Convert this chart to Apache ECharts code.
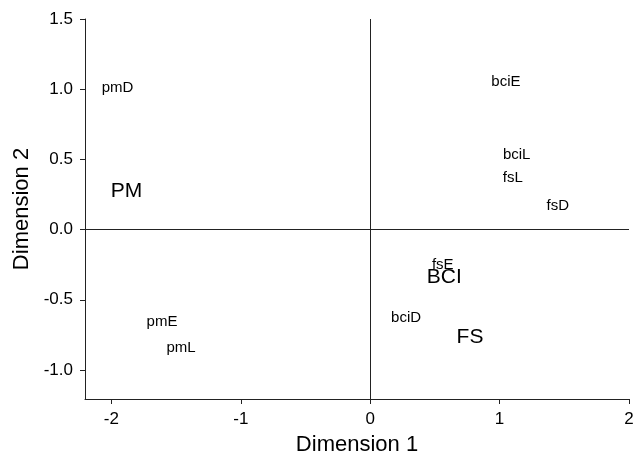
<!DOCTYPE html>
<html><head><meta charset="utf-8">
<script src="https://cdn.jsdelivr.net/npm/echarts@6/dist/echarts.min.js"></script>
<style>html,body{margin:0;padding:0;background:#fff}#c{width:640px;height:456px}</style>
</head><body><div id="c"></div>
<script>
var smallNames = ['pmD','pmE','pmL','bciE','bciL','fsL','fsD','fsE','bciD'];
var smallX = [-1.953,-1.609,-1.462,1.049,1.132,1.102,1.450,0.561,0.277];
var smallY = [1.012,-0.661,-0.843,1.053,0.535,0.368,0.166,-0.249,-0.630];
var bigNames = ['PM','BCI','FS'];
var bigX = [-1.883,0.573,0.771];
var bigY = [0.271,-0.340,-0.765];
var xTicks = [-2,-1,0,1,2];
var yTicks = [-1.0,-0.5,0.0,0.5,1.0,1.5];

function pts(n,x,y){return n.map(function(s,i){return {name:s,value:[x[i],y[i]]};});}
var font = 'Liberation Sans, Arial, Helvetica, sans-serif';
var ink = '#000';
var chart = echarts.init(document.getElementById('c'),null,{renderer:'canvas'});
chart.setOption({
  animation:false,
  grid:{left:85,right:11,top:19,bottom:57,containLabel:false,outerBoundsMode:'none'},
  xAxis:{type:'value',min:-2.204,max:2,
    name:'Dimension 1',nameLocation:'middle',nameGap:35,
    nameTextStyle:{fontFamily:font,fontSize:22,color:ink},
    axisLine:{show:true,onZero:false,lineStyle:{color:'#222',width:1}},
    axisTick:{show:true,length:5,customValues:xTicks,lineStyle:{color:'#222'}},
    axisLabel:{customValues:xTicks,fontFamily:font,fontSize:17,color:ink,margin:12},
    splitLine:{show:false}},
  yAxis:{type:'value',min:-1.207,max:1.5,
    name:'Dimension 2',nameLocation:'middle',nameGap:40,
    nameTextStyle:{fontFamily:font,fontSize:22,color:ink},
    axisLine:{show:true,onZero:false,lineStyle:{color:'#222',width:1}},
    axisTick:{show:true,length:5,customValues:yTicks,lineStyle:{color:'#222'}},
    axisLabel:{customValues:yTicks,fontFamily:font,fontSize:17,color:ink,margin:12,
      formatter:function(v){return v.toFixed(1);}},
    splitLine:{show:false}},
  series:[
    {type:'scatter',symbolSize:0,itemStyle:{opacity:1},data:pts(smallNames,smallX,smallY),
      label:{show:true,position:'inside',formatter:'{b}',fontFamily:font,fontSize:15,color:ink,
        opacity:1,textBorderWidth:0,textBorderColor:'transparent'},
      markLine:{silent:true,symbol:'none',label:{show:false},
        lineStyle:{color:'#222',width:1,type:'solid',opacity:1},
        data:[{xAxis:0},{yAxis:0}]}},
    {type:'scatter',symbolSize:0,itemStyle:{opacity:1},data:pts(bigNames,bigX,bigY),
      label:{show:true,position:'inside',formatter:'{b}',fontFamily:font,fontSize:21,color:ink,
        opacity:1,textBorderWidth:0,textBorderColor:'transparent'}}
  ]
});
</script></body></html>
